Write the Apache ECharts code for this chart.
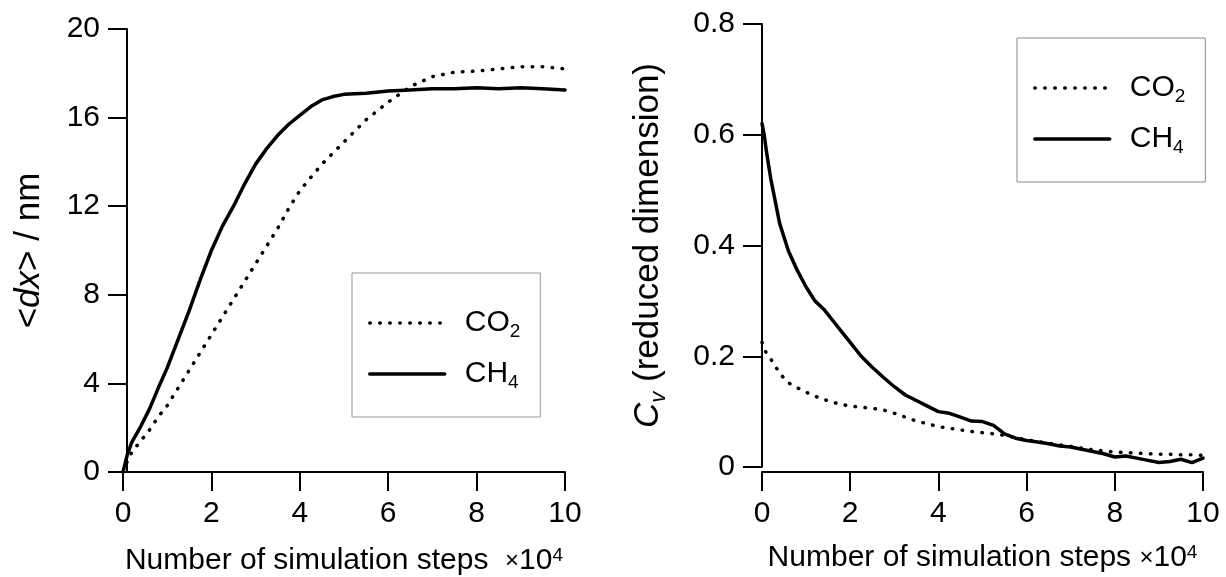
<!DOCTYPE html>
<html>
<head>
<meta charset="utf-8">
<script src="https://cdn.jsdelivr.net/npm/echarts@6/dist/echarts.min.js"></script>
<style>
  html, body { margin: 0; padding: 0; background: #fff; }
  #main { width: 1226px; height: 577px; }
</style>
</head>
<body>
<div id="main"></div>
<script>
// left panel: mean displacement <dx> (nm) vs steps (x 10^4)
const dispSteps = [0, 0.1, 0.2, 0.4, 0.6, 0.8, 1.0, 1.25, 1.5, 1.75, 2.0, 2.25, 2.5, 2.75, 3.0, 3.25, 3.5, 3.75, 4.0, 4.25, 4.5, 4.75, 5.0, 5.5, 6.0, 6.5, 7.0, 7.5, 8.0, 8.5, 9.0, 9.5, 10.0];
const dispCO2 = [0, 0.5, 0.9, 1.4, 1.9, 2.5, 3.0, 3.8, 4.6, 5.4, 6.2, 7.0, 7.8, 8.6, 9.4, 10.2, 11.0, 11.9, 12.7, 13.3, 13.9, 14.4, 14.9, 15.9, 16.7, 17.4, 17.85, 18.05, 18.1, 18.2, 18.3, 18.3, 18.2];
const dispCH4 = [0, 0.8, 1.35, 2.05, 2.85, 3.8, 4.7, 6.0, 7.3, 8.7, 10.0, 11.1, 12.0, 13.0, 13.9, 14.6, 15.2, 15.7, 16.1, 16.5, 16.8, 16.95, 17.05, 17.1, 17.2, 17.25, 17.3, 17.3, 17.35, 17.3, 17.35, 17.3, 17.25];

// right panel: Cv (reduced dimension) vs steps (x 10^4)
const cvSteps = [0, 0.05, 0.1, 0.2, 0.3, 0.4, 0.5, 0.6, 0.8, 1.0, 1.2, 1.4, 1.6, 1.8, 2.0, 2.25, 2.5, 2.75, 3.0, 3.25, 3.5, 3.75, 4.0, 4.25, 4.5, 4.75, 5.0, 5.25, 5.5, 5.75, 6.0, 6.25, 6.5, 6.75, 7.0, 7.25, 7.5, 7.75, 8.0, 8.25, 8.5, 8.75, 9.0, 9.25, 9.5, 9.75, 10.0];
const cvCO2 = [0.225, 0.215, 0.205, 0.195, 0.182, 0.17, 0.16, 0.152, 0.143, 0.135, 0.128, 0.122, 0.117, 0.113, 0.11, 0.108, 0.106, 0.103, 0.097, 0.09, 0.083, 0.078, 0.073, 0.07, 0.067, 0.064, 0.062, 0.06, 0.057, 0.053, 0.049, 0.046, 0.043, 0.04, 0.037, 0.034, 0.031, 0.029, 0.027, 0.026, 0.025, 0.024, 0.023, 0.023, 0.022, 0.022, 0.021];
const cvCH4 = [0.62, 0.60, 0.57, 0.52, 0.48, 0.44, 0.415, 0.39, 0.355, 0.325, 0.30, 0.285, 0.265, 0.245, 0.225, 0.20, 0.18, 0.162, 0.145, 0.13, 0.12, 0.11, 0.10, 0.097, 0.09, 0.083, 0.082, 0.075, 0.06, 0.052, 0.048, 0.045, 0.042, 0.038, 0.036, 0.032, 0.028, 0.024, 0.018, 0.02, 0.016, 0.012, 0.008, 0.01, 0.014, 0.008, 0.016];

const seriesNames = ["CO2", "CH4"];

const FONT = "'Liberation Sans', Arial, sans-serif";
const dotted = [0.5, 9.5];

const zip = (xs, ys) => xs.map((x, i) => [x, ys[i]]);

const richText = {
  i: { fontStyle: "italic", fontSize: 35, fontFamily: FONT, color: "#000" },
  sub: { fontSize: 19, fontFamily: FONT, color: "#000", verticalAlign: "bottom", padding: [20, 0, 0, 0] },
  subi: { fontSize: 22, fontStyle: "italic", fontFamily: FONT, color: "#000", verticalAlign: "bottom", padding: [22, 0, 0, 0] },
  sup: { fontSize: 19, fontFamily: FONT, color: "#000", verticalAlign: "top", padding: [0, 0, 10, 0] },
  times: { fontSize: 24, fontFamily: FONT, color: "#000" },
};

const xAxisCommon = {
  type: "value",
  min: 0,
  max: 10,
  interval: 2,
  nameLocation: "middle",
  nameTextStyle: { fontSize: 30, fontFamily: FONT, color: "#000", rich: richText },
  axisLine: { onZero: false, lineStyle: { color: "#000", width: 2 } },
  axisTick: { length: 19, lineStyle: { color: "#000", width: 2 } },
  axisLabel: { fontSize: 30, fontFamily: FONT, color: "#000", margin: 27 },
  splitLine: { show: false },
};

const yAxisCommon = {
  type: "value",
  nameLocation: "middle",
  nameRotate: 90,
  nameTextStyle: { fontSize: 35, fontFamily: FONT, color: "#000", rich: richText },
  axisLine: { show: true, onZero: false, lineStyle: { color: "#000", width: 2 } },
  axisTick: { show: true, length: 19, lineStyle: { color: "#000", width: 2 } },
  axisLabel: { fontSize: 30, fontFamily: FONT, color: "#000", margin: 27 },
  splitLine: { show: false },
};

const legendCommon = {
  orient: "vertical",
  backgroundColor: "#fff",
  borderColor: "#999",
  borderWidth: 1,
  borderRadius: 0,
  itemWidth: 75,
  itemHeight: 14,
  itemGap: 18,
  padding: [35, 20, 25, 16],
  lineStyle: { width: 3.5 },
  itemStyle: { opacity: 0 },
  data: seriesNames,
  formatter: (name) => (name === "CO2" ? "{n|CO}{sub|2}" : "{n|CH}{sub|4}"),
  textStyle: {
    fontSize: 30,
    fontFamily: FONT,
    color: "#000",
    padding: [0, 0, 0, 15],
    rich: {
      n: { fontSize: 30, fontFamily: FONT, color: "#000", lineHeight: 30 },
      sub: { fontSize: 19, fontFamily: FONT, color: "#000", verticalAlign: "bottom", padding: [17, 0, 0, 0] },
    },
  },
};

const lineSeries = (name, xi, data, type) => ({
  name: name,
  type: "line",
  xAxisIndex: xi,
  yAxisIndex: xi,
  data: data,
  symbol: "none",
  smooth: false,
  animation: false,
  lineStyle: { color: "#000", width: 3.5, type: type, cap: "round" },
  itemStyle: { color: "#000" },
});

const chart = echarts.init(document.getElementById("main"));

const option = {
  backgroundColor: "#fff",
  animation: false,
  grid: [
    { left: 123, top: 29, width: 442, height: 443, outerBoundsMode: "none" },
    { left: 762, top: 24, width: 441, height: 443, outerBoundsMode: "none" },
  ],
  xAxis: [
    { ...xAxisCommon, gridIndex: 0, name: "Number of simulation steps  {times|×}10{sup|4}", nameGap: 74 },
    { ...xAxisCommon, gridIndex: 1, offset: 5, name: "Number of simulation steps {times|×}10{sup|4}", nameGap: 71 },
  ],
  yAxis: [
    { ...yAxisCommon, gridIndex: 0, min: 0, max: 20, interval: 4, offset: -4, name: "<{i|dx}> / nm", nameGap: 80 },
    { ...yAxisCommon, gridIndex: 1, min: 0, max: 0.8, interval: 0.2, name: "{i|C}{subi|v} (reduced dimension)", nameGap: 92 },
  ],
  legend: [
    { ...legendCommon, left: 352, top: 273 },
    { ...legendCommon, left: 1017, top: 38, borderColor: "#888" },
  ],
  series: [
    lineSeries("CO2", 0, zip(dispSteps, dispCO2), dotted),
    lineSeries("CH4", 0, zip(dispSteps, dispCH4), "solid"),
    lineSeries("CO2", 1, zip(cvSteps, cvCO2), dotted),
    lineSeries("CH4", 1, zip(cvSteps, cvCH4), "solid"),
  ],
};

chart.setOption(option);
</script>
</body>
</html>
